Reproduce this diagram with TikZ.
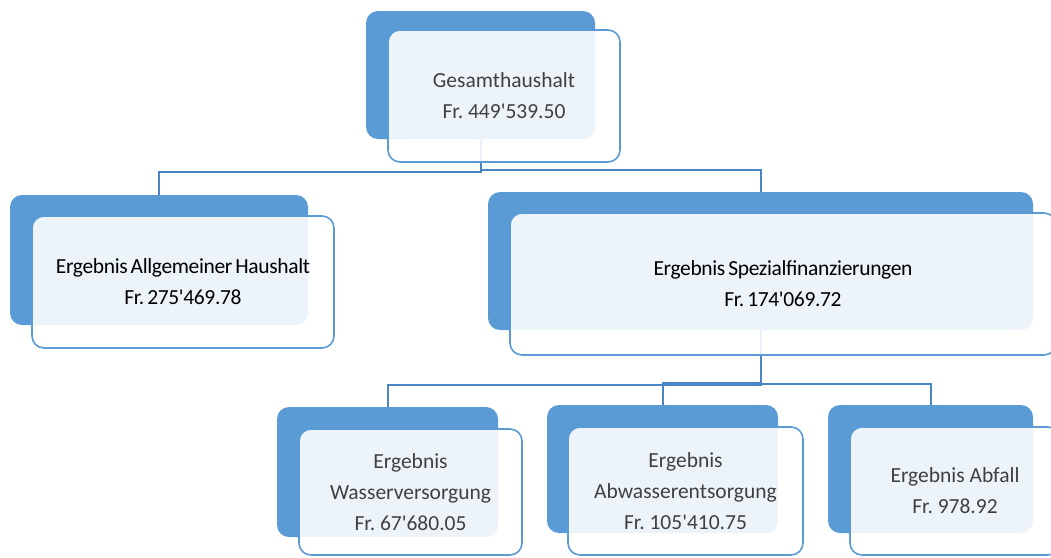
\documentclass[tikz,border=0pt]{standalone}
\usepackage{fontspec}
\setmainfont{Carlito}[Ligatures=TeXOff]
\newfontfamily\tightfont{Carlito}[Ligatures=TeXOff,LetterSpace=-1.6,WordSpace=0.65]
\usetikzlibrary{backgrounds}
\frenchspacing
\definecolor{boxblue}{HTML}{5B9BD5}
\definecolor{linkblue}{HTML}{4A86C5}
\definecolor{txt}{HTML}{404040}
\tikzset{
  backbox/.style={fill=boxblue, draw=none, rounded corners=12pt, inner sep=0pt, outer sep=0pt},
  frontbox/.style={draw=boxblue, line width=1.6pt, fill=white, fill opacity=0.89, text opacity=1,
     rounded corners=12pt, inner sep=0pt, outer sep=0pt, align=center, text=txt,
     font=\frenchspacing\fontsize{21.5}{31}\selectfont},
  tight/.style={text=black, font=\frenchspacing\tightfont\fontsize{21.5}{31}\selectfont},
  link/.style={draw=linkblue, line width=2pt}
}
\begin{document}
\begin{tikzpicture}[x=1pt,y=-1pt]
\useasboundingbox (0,0) rectangle (1051,557);
% back boxes
\node[backbox, minimum width=229, minimum height=128] (topB) at (480.5,75) {};
\node[backbox, minimum width=298, minimum height=130] (leftB) at (159,260) {};
\node[backbox, minimum width=545, minimum height=138] (bigB) at (760.5,261) {};
\node[backbox, minimum width=221, minimum height=130] (wB) at (387.5,472) {};
\node[backbox, minimum width=231, minimum height=128] (aB) at (662.5,469) {};
\node[backbox, minimum width=205, minimum height=128] (fB) at (930.5,469) {};
% connectors (behind)
\begin{pgfonlayer}{background}
\draw[link] (topB.center) ++(0,64) coordinate (t0) -- ++(0,33) coordinate (t1) -| (leftB.north);
\draw[link] (t0) -- ++(0,31) -| (bigB.north);
\draw[link] (bigB.center) ++(0,69) coordinate (b0) -- ++(0,55) -| (wB.north);
\draw[link] (b0) -- ++(0,53) -| (aB.north);
\draw[link] (b0) -- ++(0,54) -| (fB.north);
\end{pgfonlayer}
% front boxes
\node[frontbox, minimum width=232, minimum height=132] (top) at (504,96) {Gesamthaushalt\\Fr. 449'539.50};
\node[frontbox, tight, minimum width=302, minimum height=132] (left) at (183,282) {Ergebnis Allgemeiner Haushalt\\Fr. 275'469.78};
\node[frontbox, tight, minimum width=546, minimum height=142] (big) at (783,284) {Ergebnis Spezialfinanzierungen\\Fr. 174'069.72};
\node[frontbox, minimum width=223, minimum height=126] (w) at (410.5,492) {Ergebnis\\Wasserversorgung\\Fr. 67'680.05};
\node[frontbox, minimum width=235, minimum height=128] (a) at (685.5,491) {Ergebnis\\Abwasserentsorgung\\Fr. 105'410.75};
\node[frontbox, minimum width=210, minimum height=128] (f) at (955,491) {Ergebnis Abfall\\Fr. 978.92};
\end{tikzpicture}
\end{document}
